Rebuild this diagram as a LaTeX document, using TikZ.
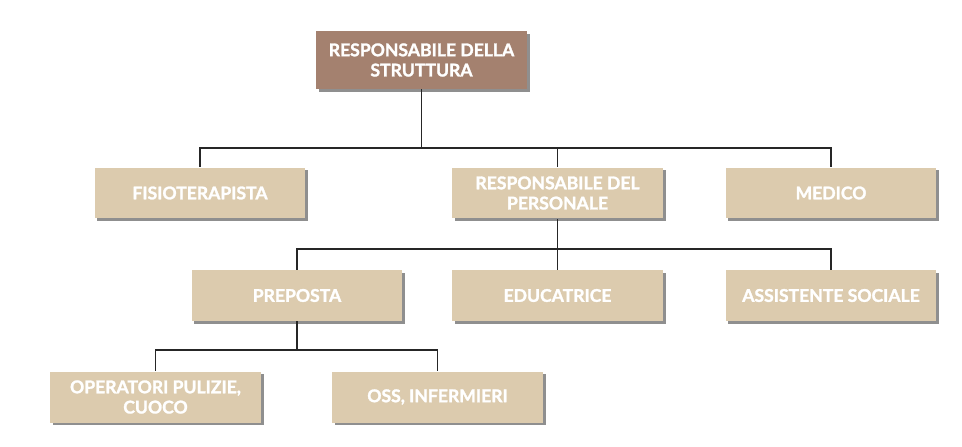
\documentclass[tikz,border=0pt]{standalone}
\usepackage{fontspec}
\newfontfamily\boxfont{Lato}[BoldFeatures={FakeBold=1.6}]
\usetikzlibrary{shadows}
\definecolor{capo}{HTML}{A4816F}
\definecolor{ruolo}{HTML}{DCCBAE}
\tikzset{
  ruolobox/.style={fill=ruolo, text=white, font=\boxfont\bfseries\fontsize{10}{11.5}\selectfont,
    align=center, minimum width=4.22cm, minimum height=1.02cm, inner sep=2pt,
    drop shadow={shadow xshift=1.6pt, shadow yshift=-1.6pt, fill=black!55, opacity=0.8}},
  capobox/.style={ruolobox, fill=capo, minimum height=1.16cm},
  linea/.style={draw=black!85, line width=0.6pt}
}
\begin{document}
\begin{tikzpicture}[x=0.02cm, y=-0.02cm]
  \useasboundingbox (0,0) rectangle (962,446);
  % vertice
  \node[capobox] (strut) at (421.5,60) {RESPONSABILE DELLA\\STRUTTURA};
  % secondo livello
  \node[ruolobox] (fisio) at (200,193) {FISIOTERAPISTA};
  \node[ruolobox] (pers) at (557.5,193) {RESPONSABILE DEL\\PERSONALE};
  \node[ruolobox] (med) at (831,193) {MEDICO};
  % terzo livello
  \node[ruolobox] (prep) at (297,295.5) {PREPOSTA};
  \node[ruolobox] (educ) at (557.5,295.5) {EDUCATRICE};
  \node[ruolobox] (ass) at (831,295.5) {ASSISTENTE SOCIALE};
  % quarto livello
  \node[ruolobox] (oper) at (155.5,397) {OPERATORI PULIZIE,\\CUOCO};
  \node[ruolobox] (oss) at (437.5,397) {OSS, INFERMIERI};
  % collegamenti
  \coordinate (b1) at (strut.south |- 0,148);
  \coordinate (b2) at (pers.south |- 0,249);
  \coordinate (b3) at (prep.south |- 0,350);
  \draw[linea] (strut.south) -- (b1);
  \foreach \n in {fisio,pers,med}{\draw[linea] (b1) -| (\n.north);};
  \draw[linea] (pers.south) -- (b2);
  \foreach \n in {prep,educ,ass}{\draw[linea] (b2) -| (\n.north);};
  \draw[linea] (prep.south) -- (b3);
  \foreach \n in {oper,oss}{\draw[linea] (b3) -| (\n.north);};
\end{tikzpicture}
\end{document}
